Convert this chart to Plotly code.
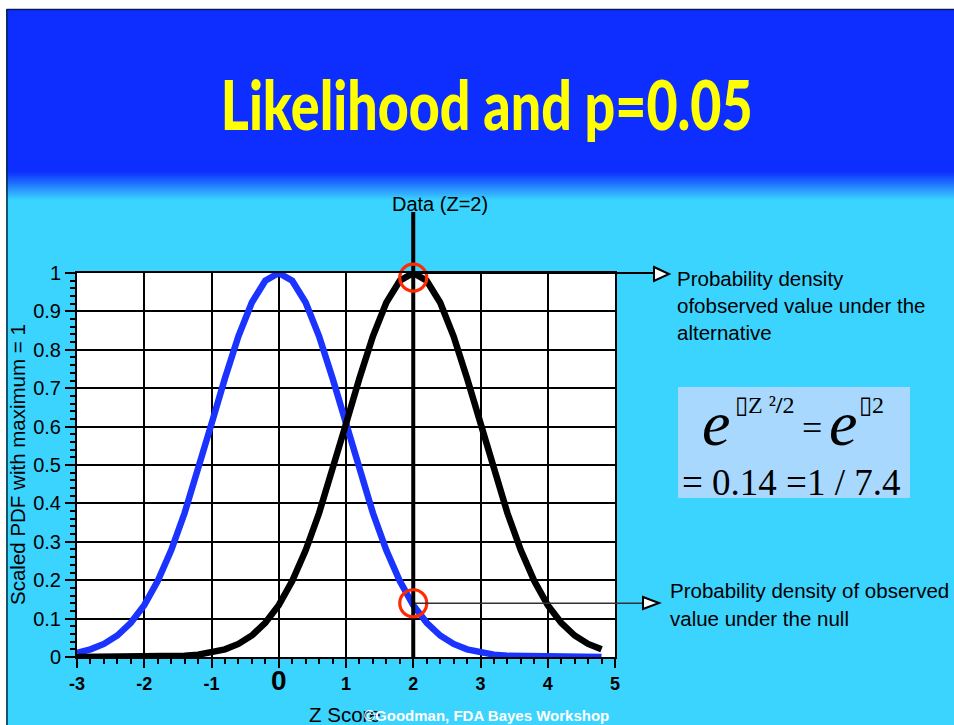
import plotly.graph_objects as go

# ---------------- data ----------------
z_score = [-3.0, -2.8, -2.6, -2.4, -2.2, -2.0, -1.8, -1.6, -1.4, -1.2,
           -1.0, -0.8, -0.6, -0.4, -0.2, 0.0, 0.2, 0.4, 0.6, 0.8,
           1.0, 1.2, 1.4, 1.6, 1.8, 2.0, 2.2, 2.4, 2.6, 2.8,
           3.0, 3.2, 3.4, 3.6, 3.8, 4.0, 4.2, 4.4, 4.6, 4.8]
null_pdf = [0.011, 0.020, 0.034, 0.056, 0.089, 0.135, 0.198, 0.278, 0.375, 0.487,
            0.607, 0.726, 0.835, 0.923, 0.980, 1.000, 0.980, 0.923, 0.835, 0.726,
            0.607, 0.487, 0.375, 0.278, 0.198, 0.135, 0.089, 0.056, 0.034, 0.020,
            0.011, 0.006, 0.003, 0.002, 0.001, 0.000, 0.000, 0.000, 0.000, 0.000]
alt_pdf = [0.000, 0.000, 0.000, 0.000, 0.000, 0.000, 0.001, 0.002, 0.003, 0.006,
           0.011, 0.020, 0.034, 0.056, 0.089, 0.135, 0.198, 0.278, 0.375, 0.487,
           0.607, 0.726, 0.835, 0.923, 0.980, 1.000, 0.980, 0.923, 0.835, 0.726,
           0.607, 0.487, 0.375, 0.278, 0.198, 0.135, 0.089, 0.056, 0.034, 0.020]
observed_z = 2
lik_alt = 1.0
lik_null = 0.14
x_ticks = [-3, -2, -1, 0, 1, 2, 3, 4, 5]
y_ticks = [0, 0.1, 0.2, 0.3, 0.4, 0.5, 0.6, 0.7, 0.8, 0.9, 1]
y_ticklabels = ["0", "0.1", "0.2", "0.3", "0.4", "0.5", "0.6", "0.7", "0.8", "0.9", "1"]

# ---------------- layout helpers ----------------
W, H = 954, 725
L, R, T, B = 77, 615, 273, 657


def PX(px):
    return (px - L) / (R - L)


def PY(py):
    return (B - py) / (B - T)


BLUE_BG = (13, 46, 255)
CYAN_BG = (58, 212, 255)
SANS = "Liberation Sans, Arial, sans-serif"
SERIF = "Liberation Serif, Times New Roman, serif"

fig = go.Figure()

fig.add_trace(go.Scatter(x=z_score, y=null_pdf, mode="lines",
                         line=dict(color="#1a33ff", width=6.5), hoverinfo="skip"))
fig.add_trace(go.Scatter(x=z_score, y=alt_pdf, mode="lines",
                         line=dict(color="black", width=6.5), hoverinfo="skip"))
# data line at observed z inside plot
fig.add_trace(go.Scatter(x=[observed_z, observed_z], y=[0, 1], mode="lines",
                         line=dict(color="black", width=4), hoverinfo="skip"))
# red circles
fig.add_trace(go.Scatter(x=[observed_z, observed_z], y=[lik_alt - 0.012, lik_null],
                         mode="markers", cliponaxis=False,
                         marker=dict(symbol="circle-open", size=27, color="#ff2a00",
                                     line=dict(width=3.2, color="#ff2a00")),
                         hoverinfo="skip"))

shapes = []
x_full0, x_full1 = PX(0), PX(W)
shapes.append(dict(type="rect", xref="paper", yref="paper", layer="below",
                   x0=x_full0, x1=x_full1, y0=PY(172), y1=PY(0),
                   fillcolor="rgb(%d,%d,%d)" % BLUE_BG, line=dict(width=0)))
steps = 14
for i in range(steps):
    t = (i + 0.5) / steps
    c = tuple(int(round(BLUE_BG[k] + (CYAN_BG[k] - BLUE_BG[k]) * t)) for k in range(3))
    y0 = 172 + i * 2
    shapes.append(dict(type="rect", xref="paper", yref="paper", layer="below",
                       x0=x_full0, x1=x_full1, y0=PY(y0 + 2.3), y1=PY(y0),
                       fillcolor="rgb(%d,%d,%d)" % c, line=dict(width=0)))
shapes.append(dict(type="rect", xref="paper", yref="paper", layer="below",
                   x0=x_full0, x1=x_full1, y0=PY(9), y1=PY(0),
                   fillcolor="white", line=dict(width=0)))
shapes.append(dict(type="rect", xref="paper", yref="paper", layer="below",
                   x0=PX(0), x1=PX(6), y0=PY(H), y1=PY(0),
                   fillcolor="white", line=dict(width=0)))
shapes.append(dict(type="line", xref="paper", yref="paper", layer="below",
                   x0=PX(6.5), x1=PX(W), y0=PY(9.5), y1=PY(9.5),
                   line=dict(color="#0a1a60", width=1.5)))
shapes.append(dict(type="line", xref="paper", yref="paper", layer="below",
                   x0=PX(7), x1=PX(7), y0=PY(9.5), y1=PY(H),
                   line=dict(color="#0a2a40", width=1.5)))
shapes.append(dict(type="line", xref="x", yref="paper", layer="below",
                   x0=observed_z, x1=observed_z, y0=1, y1=PY(212),
                   line=dict(color="black", width=4)))
shapes.append(dict(type="line", xref="paper", yref="paper", layer="above",
                   x0=PX(413), x1=PX(654), y0=lik_alt, y1=lik_alt,
                   line=dict(color="black", width=2)))
shapes.append(dict(type="path", xref="paper", yref="paper", layer="above",
                   path="M %f %f L %f %f L %f %f Z" % (PX(654), PY(267), PX(669), PY(274),
                                                         PX(654), PY(281)),
                   fillcolor="white", line=dict(color="black", width=2)))
shapes.append(dict(type="line", xref="paper", yref="paper", layer="above",
                   x0=PX(415), x1=PX(643), y0=lik_null, y1=lik_null,
                   line=dict(color="#333333", width=1.5)))
shapes.append(dict(type="path", xref="paper", yref="paper", layer="above",
                   path="M %f %f L %f %f L %f %f Z" % (PX(643), PY(597), PX(659), PY(603),
                                                         PX(643), PY(609)),
                   fillcolor="white", line=dict(color="black", width=2)))
shapes.append(dict(type="rect", xref="paper", yref="paper", layer="below",
                   x0=PX(678), x1=PX(910), y0=PY(498), y1=PY(387),
                   fillcolor="#a9d8ff", line=dict(width=0)))

ann = []


def text(s, px, py, size, color="black", family=SANS, xanchor="center", yanchor="middle",
         weight=None):
    f = dict(size=size, color=color, family=family)
    if weight:
        f["weight"] = weight
    ann.append(dict(text=s, x=PX(px), y=PY(py), xref="paper", yref="paper",
                    showarrow=False, xanchor=xanchor, yanchor=yanchor, font=f))


TITLE_FONT = "Lato, Roboto, Liberation Sans, sans-serif"
text("Likelihood and p=0.05", 487, 103, 64, color="#ffff00", family=TITLE_FONT, weight=900)
text("Data (Z=2)", 440, 204, 20, family=SANS)
text("Probability density", 675, 278, 20.5, xanchor="left")
text("ofobserved value under the", 675, 305, 20.5, xanchor="left")
text("alternative", 675, 332, 20.5, xanchor="left")
text("Probability density of observed", 668, 590, 20.5, xanchor="left")
text("value under the null", 668, 618, 20.5, xanchor="left")
text("Z Score", 307, 714, 20.5, xanchor="left")
text("<b>©Goodman, FDA Bayes Workshop</b>", 362, 715, 15, color="white", xanchor="left")
text("Scaled PDF with maximum = 1", 17, 465, 20.5)
ann[-1]["textangle"] = -90
# formula
text("<i>e</i>", 716, 423, 64, family=SERIF)
text("▯Z ²<b>/</b>2", 765, 405, 24, family=SERIF)
text("=", 812, 428, 36, family=SERIF)
text("<i>e</i>", 843, 423, 64, family=SERIF)
text("▯2", 871, 405, 24, family=SERIF)
text("= 0.14 =1 / 7.4", 792, 482, 37, family=SERIF)

x_ticktext = []
for v in x_ticks:
    if v == 0:
        x_ticktext.append("<span style='font-size:28px'><b>0</b></span>")
    else:
        x_ticktext.append("<b>%d</b>" % v)

fig.update_layout(
    width=W, height=H,
    margin=dict(l=L, r=W - R, t=T, b=H - B, pad=0),
    paper_bgcolor="rgb(%d,%d,%d)" % CYAN_BG,
    plot_bgcolor="white",
    showlegend=False,
    shapes=shapes,
    annotations=ann,
    xaxis=dict(range=[-3, 5], tickvals=x_ticks, ticktext=x_ticktext,
               showgrid=True, gridcolor="black", gridwidth=2,
               zeroline=False, showline=True, linecolor="black", linewidth=2, mirror=True,
               ticks="outside", ticklen=9, tickwidth=2, tickcolor="black",
               minor=dict(dtick=0.2, ticks="outside", ticklen=5, tickwidth=1.5,
                          tickcolor="black", showgrid=False),
               tickfont=dict(size=18, color="black", family=SANS)),
    yaxis=dict(range=[0, 1], tickvals=y_ticks, ticktext=y_ticklabels,
               showgrid=True, gridcolor="black", gridwidth=2,
               zeroline=False, showline=True, linecolor="black", linewidth=2, mirror=True,
               ticks="outside", ticklen=10, tickwidth=2, tickcolor="black",
               minor=dict(dtick=0.02, ticks="outside", ticklen=5, tickwidth=1.5,
                          tickcolor="black", showgrid=False),
               tickfont=dict(size=20, color="black", family=SANS)),
)

# squeeze the headline horizontally to mimic the condensed slide font
post = """
document.querySelectorAll('.annotation-text').forEach(function(t){
  if (t.textContent.indexOf('Likelihood') === 0) {
    var b = t.getBBox();
    var cx = b.x + b.width / 2, cy = b.y + b.height / 2;
    var sx = 532 / b.width;
    t.setAttribute('transform', 'translate(' + cx + ',' + cy + ') scale(' + sx + ',1.08) translate(' + (-cx) + ',' + (-cy) + ')');
  }
});
"""

fig.write_html("out.html", post_script=post)
